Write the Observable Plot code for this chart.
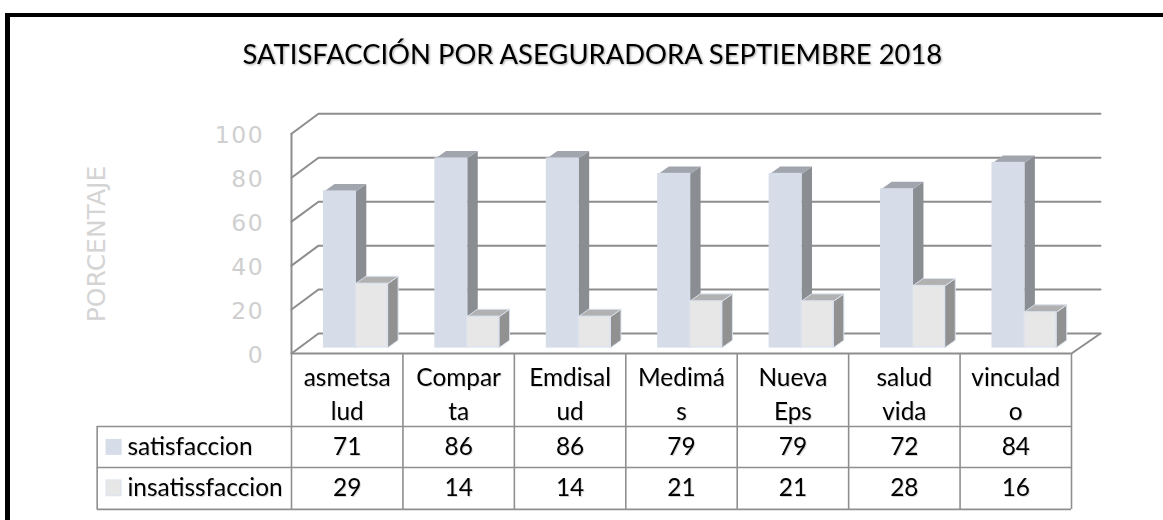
<!DOCTYPE html>
<html lang="es">
<head>
<meta charset="utf-8">
<script src="https://cdn.jsdelivr.net/npm/d3@7"></script>
<script src="https://cdn.jsdelivr.net/npm/@observablehq/plot@0.6"></script>
<style>
html,body{margin:0;padding:0;background:#fff;overflow:hidden}
#frame{position:absolute;left:5px;top:13px;right:0;bottom:0;border-left:5px solid #000;border-top:4px solid #000;pointer-events:none}
svg{display:block;position:absolute;left:0;top:0}
svg text{font-family:Lato,sans-serif}
svg .dv text{font-family:"DejaVu Sans",sans-serif}
svg .tk text{font-family:"DejaVu Sans",sans-serif;letter-spacing:1.5px}
.shadow text{filter:drop-shadow(1px 1px 1px rgba(0,0,0,.35))}
.soft text{filter:drop-shadow(1px 1px 0.6px rgba(0,0,0,.16))}
</style>
</head>
<body>
<div id="frame"></div>
<div id="chart"></div>
<script>
const chartTitle = "SATISFACCIÓN POR ASEGURADORA SEPTIEMBRE 2018";
const yTitle = "PORCENTAJE";
const categories = ["asmetsa\nlud","Compar\nta","Emdisal\nud","Medimá\ns","Nueva\nEps","salud\nvida","vinculad\no"];
const satisfaccion = [71,86,86,79,79,72,84];
const insatisfaccion = [29,14,14,21,21,28,16];
const seriesNames = ["satisfaccion","insatissfaccion"];
const yTicks = [0,20,40,60,80,100];

// layout in scale units
const barOffset = 0.2917, barW = 0.2855, depthX = 0.0942, depthY = 3.41;
const frontDrop = -2.73, backRise = 6.37, backLeft = 0.2423, backRight = 7.26;
const rowLines = [-35.96, -54.6, -73.7], tableTop = frontDrop, tableLeft = -1.744;

const series = [
  {key:0, values:satisfaccion, front:"#d6dde8", top:"#a1a5ae", side:"#8a8d92", edge:"#d6dde8", off:barOffset},
  {key:1, values:insatisfaccion, front:"#e7e7e7", top:"#b1b1b1", side:"#919191", edge:"#dbe2ee", off:barOffset+barW}
];
const bars = s => s.values.map((v,i)=>({i, v, x1:i+s.off, x2:i+s.off+barW}));
const topFace = s => bars(s).flatMap(b=>[[b.x1,b.v],[b.x2,b.v],[b.x2+depthX,b.v+depthY],[b.x1+depthX,b.v+depthY]].map(p=>({id:b.i,x:p[0],y:p[1]})));
const sideFace = s => bars(s).flatMap(b=>[[b.x2,0],[b.x2,b.v],[b.x2+depthX,b.v+depthY],[b.x2+depthX,depthY]].map(p=>({id:b.i,x:p[0],y:p[1]})));

const grid = yTicks.flatMap(t=>[[0,t+frontDrop],[backLeft,t+backRise],[backRight,t+backRise]].map(p=>({id:t,x:p[0],y:p[1]})));
const floorLine = [[0,frontDrop],[7,frontDrop],[backRight,backRise]].map(p=>({x:p[0],y:p[1]}));
const gridStyle = {stroke:"#8d8d8d", strokeWidth:2};
const tableStyle = {stroke:"#8f8f8f", strokeWidth:1.6};
const cols = d3.range(8);

const marks = [
  Plot.line(grid,{x:"x",y:"y",z:"id",...gridStyle}),
  Plot.line(floorLine,{x:"x",y:"y",...gridStyle}),
  Plot.ruleX([0],{y1:frontDrop,y2:100+frontDrop,...gridStyle})
];
for (const s of series) {
  marks.push(
    Plot.line(sideFace(s),{x:"x",y:"y",z:"id",fill:s.side,stroke:s.edge,strokeWidth:s.key?1:0,curve:"linear-closed"}),
    Plot.line(topFace(s),{x:"x",y:"y",z:"id",fill:s.top,stroke:s.edge,strokeWidth:s.key?1:0,curve:"linear-closed"}),
    Plot.rect(bars(s),{x1:"x1",x2:"x2",y1:0,y2:"v",fill:s.front,stroke:s.edge,strokeWidth:1.2})
  );
}
// data table
marks.push(
  Plot.ruleX(cols,{y1:rowLines[2],y2:tableTop,...tableStyle}),
  Plot.ruleX([tableLeft],{y1:rowLines[2],y2:rowLines[0],...tableStyle}),
  Plot.ruleY(rowLines,{x1:tableLeft,x2:7,...tableStyle}),
  Plot.rect(series,{x1:-1.66,x2:-1.525,y1:d=>rowLines[d.key]-(d.key?5.9:6.1),y2:d=>rowLines[d.key]-(d.key?13.1:12.9),fill:d=>d.front,stroke:d=>d.edge,strokeWidth:1})
);
const txt = (data,o)=>Plot.text(data,{fontSize:24.4,fill:"#000",className:"soft",lineAnchor:"middle",...o});
marks.push(
  txt(categories,{x:(d,i)=>i+0.5,y:-20.3,text:d=>d,lineHeight:1.4}),
  txt(satisfaccion,{x:(d,i)=>i+0.5,y:-45.4,text:d=>String(d)}),
  txt(insatisfaccion,{x:(d,i)=>i+0.5,y:-64,text:d=>String(d)}),
  txt(seriesNames,{x:-1.472,y:(d,i)=>i?-64:-45.4,text:d=>d,textAnchor:"start"}),
  Plot.text(yTicks,{x:-0.245,y:d=>d+frontDrop-0.7,text:d=>String(d),textAnchor:"end",lineAnchor:"middle",fontSize:23.5,fill:"#cfcfcf",className:"tk"}),
  Plot.text([yTitle],{x:-1.745,y:47.1,text:d=>d,rotate:-90,lineAnchor:"middle",fontSize:25,fill:"#d4d4d4",className:"dv"}),
  Plot.text([chartTitle],{x:2.7,y:132.9,text:d=>d,fontSize:27.4,fill:"#000",lineAnchor:"middle",className:"shadow"})
);

const svg = Plot.plot({
  width:1163, height:520,
  marginTop:0, marginRight:0, marginBottom:0, marginLeft:0,
  x:{type:"linear",domain:[0,7],range:[291,1071],axis:null},
  y:{type:"linear",domain:[0,100],range:[347,127.3],axis:null},
  style:{background:"transparent",overflow:"visible"},
  marks
});
document.getElementById("chart").append(svg);
</script>
</body>
</html>
